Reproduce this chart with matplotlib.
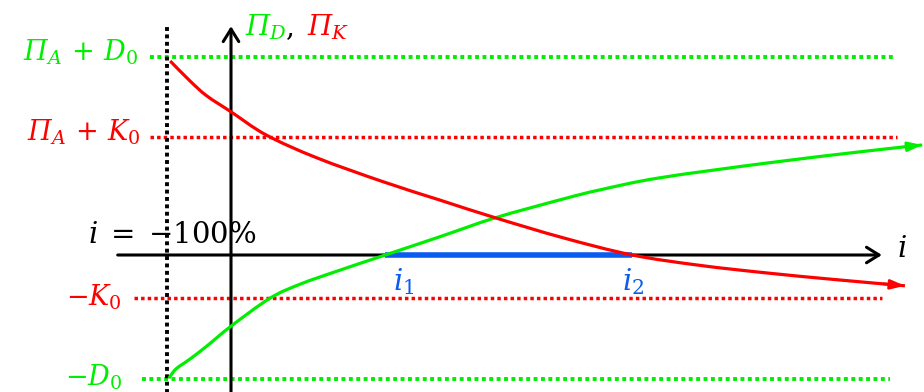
import matplotlib
matplotlib.use("Agg")
import matplotlib.pyplot as plt
from matplotlib.path import Path
from matplotlib.patches import PathPatch

plt.rcParams["mathtext.fontset"] = "custom"
plt.rcParams["mathtext.rm"] = "DejaVu Serif"
plt.rcParams["mathtext.it"] = "DejaVu Serif:italic"
plt.rcParams["font.family"] = ["DejaVu Serif"]

GREEN = "#00ee00"
RED = "#ff0000"
BLUE = "#0a5cf0"
BLACK = "#000000"

# Interest rate axis (i) in model units; i = -1 corresponds to -100 %
i_min = -1.0
i1 = 2.41
i2 = 6.27

# Profit of the debtor-side position Pi_D(i)
green_i = [-0.97, -0.86, -0.64, -0.38, 0.0, 0.61, 1.08, 1.70, 2.41, 3.27, 4.13,
           5.19, 5.77, 6.70, 8.38, 9.94, 10.80]
green_val = [-3.08, -2.85, -2.60, -2.28, -1.78, -1.08, -0.73, -0.38, 0.0, 0.46,
             0.93, 1.40, 1.63, 1.93, 2.30, 2.60, 2.75]

# Profit of the creditor-side position Pi_K(i)
red_i = [-0.95, -0.64, -0.38, 0.0, 0.55, 1.34, 2.38, 3.27, 4.13, 5.19,
         6.27, 7.33, 8.38, 9.41, 10.53]
red_val = [4.85, 4.35, 3.98, 3.58, 3.00, 2.43, 1.83, 1.37, 0.93, 0.43,
           0.0, -0.26, -0.45, -0.61, -0.77]

# Reference levels
level_pa_d0 = 4.95
level_pa_k0 = 2.95
level_neg_k0 = -1.08
level_neg_d0 = -3.10


def smooth_path(xs, ys):
    """Cubic Bezier path through all points (Catmull-Rom tangents)."""
    pts = list(zip(xs, ys))
    n = len(pts)
    verts = [pts[0]]
    codes = [Path.MOVETO]
    for k in range(n - 1):
        p0 = pts[k - 1] if k > 0 else pts[k]
        p1 = pts[k]
        p2 = pts[k + 1]
        p3 = pts[k + 2] if k + 2 < n else pts[k + 1]
        c1 = (p1[0] + (p2[0] - p0[0]) / 6, p1[1] + (p2[1] - p0[1]) / 6)
        c2 = (p2[0] - (p3[0] - p1[0]) / 6, p2[1] - (p3[1] - p1[1]) / 6)
        verts += [c1, c2, p2]
        codes += [Path.CURVE4] * 3
    return Path(verts, codes)


fig = plt.figure(figsize=(9.24, 3.92), dpi=100)
ax = fig.add_axes([0, 0, 1, 1])
ax.set_xlim(-231 / 64, (924 - 231) / 64)
ax.set_ylim((255 - 392) / 40, 255 / 40)
ax.axis("off")

dots = (0, (1, 0.9))

# Horizontal reference levels
ax.plot([-1.27, 10.34], [level_pa_d0] * 2, color=GREEN, lw=2.8, ls=dots,
        dash_capstyle="butt", zorder=1)
ax.plot([-1.27, 10.41], [level_pa_k0] * 2, color=RED, lw=2.5, ls=dots,
        dash_capstyle="butt", zorder=1)
ax.plot([-1.52, 10.17], [level_neg_k0] * 2, color=RED, lw=2.5, ls=dots,
        dash_capstyle="butt", zorder=1)
ax.plot([-1.39, 10.30], [level_neg_d0] * 2, color=GREEN, lw=2.8, ls=dots,
        dash_capstyle="butt", zorder=1)

# Vertical line at i = -100 %
ax.plot([i_min, i_min], [-3.5, 5.75], color=BLACK, lw=2.8, ls=dots,
        dash_capstyle="butt", zorder=1)

# Coordinate axes
axis_arrow = dict(arrowstyle="->,head_length=0.45,head_width=0.28",
                  color=BLACK, lw=2.2, mutation_scale=20, shrinkA=0, shrinkB=0)
ax.annotate("", xy=(10.17, 0), xytext=(-1.77, 0), arrowprops=axis_arrow,
            zorder=2)
ax.annotate("", xy=(0, 5.72), xytext=(0, -3.5), arrowprops=axis_arrow,
            zorder=2)

# Profit curves with arrow tips
for xs, ys, col in [(green_i, green_val, GREEN), (red_i, red_val, RED)]:
    ax.add_patch(PathPatch(smooth_path(xs, ys), fill=False, edgecolor=col,
                           lw=2.3, capstyle="butt", zorder=4))
    dx, dy = xs[-1] - xs[-2], ys[-1] - ys[-2]
    ax.annotate("", xy=(xs[-1], ys[-1]),
                xytext=(xs[-1] - 0.3 * dx, ys[-1] - 0.3 * dy),
                arrowprops=dict(arrowstyle="-|>,head_length=0.6,head_width=0.2",
                                color=col, lw=2.0, mutation_scale=14,
                                shrinkA=0, shrinkB=0), zorder=4)

# Interval between the two break-even rates
ax.plot([i1, i2], [0, 0], color=BLUE, lw=4.0, solid_capstyle="butt", zorder=3)

fs = 19.5
ax.text(-1.45, 4.875, r"Π$_A\,+\,D_0$", color=GREEN, fontsize=fs,
        fontstyle="italic", ha="right", va="baseline")
ax.text(-1.42, 2.875, r"Π$_A\,+\,K_0$", color=RED, fontsize=fs,
        fontstyle="italic", ha="right", va="baseline")
ax.text(-1.70, -1.275, r"$-K_0$", color=RED, fontsize=fs,
        ha="right", va="baseline")
ax.text(-1.70, -3.275, r"$-D_0$", color=GREEN, fontsize=fs,
        ha="right", va="baseline")
ax.text(-2.23, 0.30, r"$i\;=\;{-}100\%$", color=BLACK, fontsize=21,
        ha="left", va="baseline", zorder=5)
ax.text(0.22, 5.5, r"Π$_D$", color=GREEN, fontsize=20, fontstyle="italic",
        ha="left", va="baseline")
ax.text(0.86, 5.5, ",", color=BLACK, fontsize=20, ha="left", va="baseline")
ax.text(1.19, 5.5, r"Π$_K$", color=RED, fontsize=20, fontstyle="italic",
        ha="left", va="baseline")
ax.text(2.53, -0.875, r"$i_1$", color=BLUE, fontsize=21, ha="left",
        va="baseline")
ax.text(6.11, -0.875, r"$i_2$", color=BLUE, fontsize=21, ha="left",
        va="baseline")
ax.text(10.41, -0.05, r"$i$", color=BLACK, fontsize=21, ha="left",
        va="baseline")

fig.savefig("out.png", dpi=100)
